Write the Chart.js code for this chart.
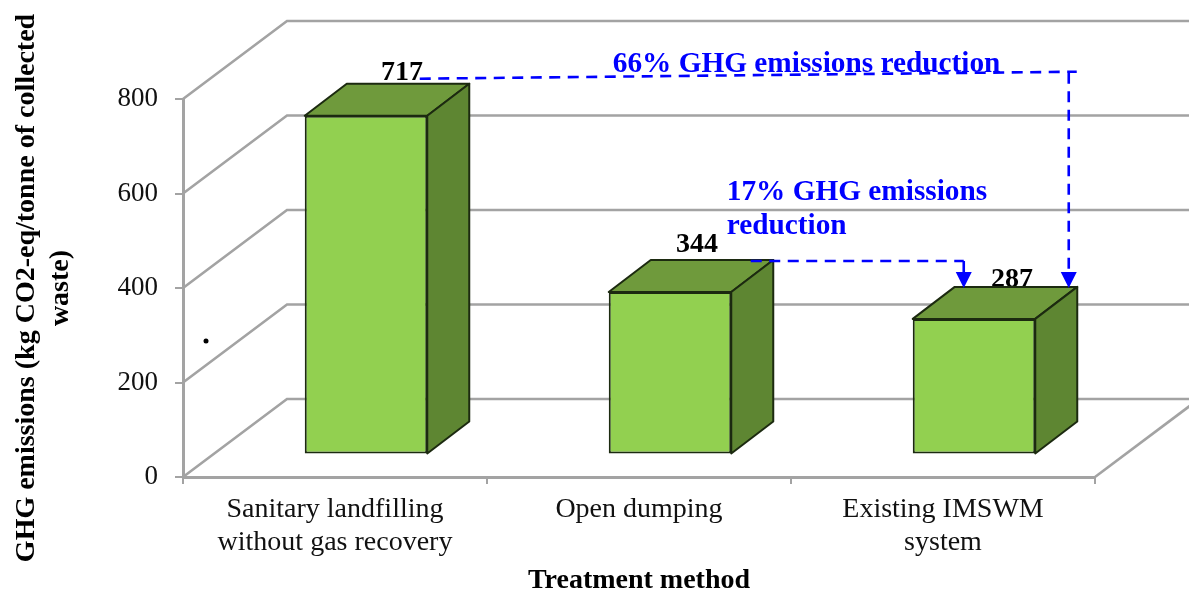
<!DOCTYPE html>
<html><head><meta charset="utf-8">
<style>html,body{margin:0;padding:0;background:#fff}canvas{display:block}</style>
<script src="https://cdn.jsdelivr.net/npm/chart.js@4/dist/chart.umd.min.js"></script>
</head><body>
<canvas id="c" width="1189" height="592"></canvas>
<script>
const categories = [['Sanitary landfilling','without gas recovery'],'Open dumping',['Existing IMSWM','system']];
const emissions = [717, 344, 287];
const yTitle = ['GHG emissions (kg CO2-eq/tonne of collected','waste)'];
const xTitle = 'Treatment method';
const note66 = '66% GHG emissions reduction';
const note17 = ['17% GHG emissions','reduction'];

const SERIF = '"Liberation Serif"';
const GRID = '#a3a3a3', EDGE = '#1c2a10';
const WALL = {dx:104, dy:-78};       // depth of the 3D box
const BAR_SHIFT = {dx:31, dy:-22.5}; // bar front offset from the floor's front edge
const BAR_DEPTH = {dx:42, dy:-32};   // depth of each bar
const LABEL_SHIFT = [{dx:36,dy:-3.5},{dx:27,dy:-7.5},{dx:38,dy:0.5}];

function face(ctx, pts, fill){
  ctx.beginPath(); pts.forEach((p,i)=> i?ctx.lineTo(p[0],p[1]):ctx.moveTo(p[0],p[1])); ctx.closePath();
  ctx.fillStyle=fill; ctx.fill();
  ctx.strokeStyle=EDGE; ctx.lineWidth=2; ctx.lineJoin='round'; ctx.stroke();
}
function arrowHead(ctx,x,tip){
  ctx.setLineDash([]); ctx.fillStyle='#0000ff';
  ctx.beginPath(); ctx.moveTo(x,tip); ctx.lineTo(x-8,tip-16); ctx.lineTo(x+8,tip-16); ctx.closePath(); ctx.fill();
}
const box3d = {
  id:'box3d',
  beforeDatasetsDraw(chart){
    const {ctx,scales:{x,y},chartArea:a}=chart;
    ctx.save(); ctx.strokeStyle=GRID; ctx.lineWidth=2.6;
    [0,200,400,600,800].forEach(v=>{
      const py=y.getPixelForValue(v);
      ctx.beginPath(); ctx.moveTo(a.left,py); ctx.lineTo(a.left+WALL.dx,py+WALL.dy);
      ctx.lineTo(chart.width,py+WALL.dy); ctx.stroke();
    });
    ctx.beginPath(); ctx.moveTo(a.right,a.bottom); ctx.lineTo(a.right+WALL.dx,a.bottom+WALL.dy); ctx.stroke();
    ctx.fillStyle='#000'; ctx.beginPath(); ctx.arc(a.left+23,y.getPixelForValue(288),2.5,0,Math.PI*2); ctx.fill();
    ctx.restore();
  },
  beforeDatasetDraw(chart,args){
    const {ctx}=chart;
    ctx.save();
    ctx.fillStyle='#000'; ctx.font='bold 28px '+SERIF; ctx.textAlign='center'; ctx.textBaseline='alphabetic';
    args.meta.data.forEach((b,i)=>{
      const cx=b.x+BAR_SHIFT.dx+LABEL_SHIFT[i].dx;
      const by=b.y+BAR_SHIFT.dy+BAR_DEPTH.dy+LABEL_SHIFT[i].dy;
      ctx.fillText(String(emissions[i]),cx,by);
    });
    ctx.translate(BAR_SHIFT.dx,BAR_SHIFT.dy);
    args.meta.data.forEach(b=>{
      const l=b.x-b.width/2,r=b.x+b.width/2,t=b.y,bt=b.base,d=BAR_DEPTH;
      face(ctx,[[l,t],[l+d.dx,t+d.dy],[r+d.dx,t+d.dy],[r,t]],'#6f9a3c');
      face(ctx,[[r,t],[r+d.dx,t+d.dy],[r+d.dx,bt+d.dy],[r,bt]],'#5e8632');
    });
  },
  afterDatasetDraw(chart){ chart.ctx.restore(); },
  afterDatasetsDraw(chart){
    const {ctx}=chart, bars=chart.getDatasetMeta(0).data;
    const topBack=b=>b.y+BAR_SHIFT.dy+BAR_DEPTH.dy;
    const frontL=b=>b.x-b.width/2+BAR_SHIFT.dx;
    const t0=topBack(bars[0]),t1=topBack(bars[1]),t2=topBack(bars[2]);
    const l0=frontL(bars[0]),l1=frontL(bars[1]),l2=frontL(bars[2]);
    ctx.save();
    ctx.strokeStyle='#0000ff'; ctx.lineWidth=2.6; ctx.setLineDash([11,7.5]);
    // 66% reduction path
    const ax=l2+156, bx=l2+51;
    ctx.beginPath(); ctx.moveTo(l0+115,t0-5); ctx.lineTo(l2+164,t0-12); ctx.stroke();
    ctx.beginPath(); ctx.moveTo(ax,t0-11); ctx.lineTo(ax,t2-14); ctx.stroke();
    arrowHead(ctx,ax,t2+1);
    // 17% reduction path
    ctx.setLineDash([11,7.5]);
    ctx.beginPath(); ctx.moveTo(l1+142,t1+1); ctx.lineTo(bx,t1+1); ctx.stroke();
    ctx.setLineDash([]);
    ctx.beginPath(); ctx.moveTo(bx,t1+1); ctx.lineTo(bx,t2-14); ctx.stroke();
    arrowHead(ctx,bx,t2+1);
    ctx.fillStyle='#0000ff'; ctx.font='bold 29.3px '+SERIF; ctx.textAlign='left'; ctx.textBaseline='alphabetic';
    ctx.fillText(note66,l0+308,t0-12);
    ctx.fillText(note17[0],l1+118,t1-60);
    ctx.fillText(note17[1],l1+118,t1-26);
    ctx.restore();
  }
};
new Chart(document.getElementById('c'),{
  type:'bar',
  data:{labels:categories,datasets:[{data:emissions,backgroundColor:'#92d050',borderColor:EDGE,borderWidth:2,borderSkipped:false,
    categoryPercentage:0.403,barPercentage:1,clip:false}]},
  plugins:[box3d],
  options:{
    responsive:false,animation:false,
    layout:{autoPadding:false,padding:{top:99,right:94,left:0,bottom:0}},
    plugins:{legend:{display:false},tooltip:{enabled:false}},
    scales:{
      x:{
        afterFit(s){s.height=115;},
        offset:true,
        grid:{drawOnChartArea:false,offset:true,color:GRID,lineWidth:2,tickLength:7,tickColor:GRID},
        border:{color:GRID,width:3},
        ticks:{color:'#111',autoSkip:false,maxRotation:0,minRotation:0,padding:9,font:{family:SERIF,size:28,lineHeight:1.18}},
        title:{display:true,text:xTitle,color:'#000',font:{family:SERIF,size:28,weight:'bold',lineHeight:0.8},padding:0}
      },
      y:{
        afterFit(s){s.width=183;},
        min:0,max:800,
        grid:{drawOnChartArea:false,color:GRID,lineWidth:2,tickLength:8,tickColor:GRID},
        border:{color:GRID,width:3},
        ticks:{stepSize:200,color:'#111',padding:17,font:{family:SERIF,size:27}},
        title:{display:true,text:yTitle,color:'#000',font:{family:SERIF,size:28,weight:'bold',lineHeight:1.2},padding:{top:10,bottom:0}}
      }
    }
  }
});
</script>
</body></html>
